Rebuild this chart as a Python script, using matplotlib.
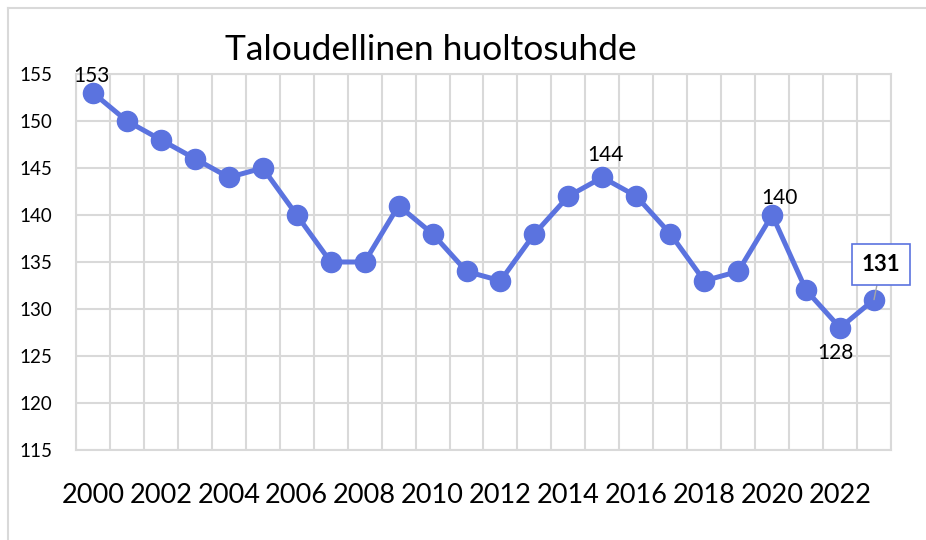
import matplotlib
matplotlib.use("Agg")
import matplotlib.pyplot as plt
from matplotlib.lines import Line2D

plt.rcParams['font.family'] = ['Lato', 'DejaVu Sans']

years = list(range(2000, 2024))
values = [153, 150, 148, 146, 144, 145, 140, 135, 135, 141, 138, 134,
          133, 138, 142, 144, 142, 138, 133, 134, 140, 132, 128, 131]
title = "Taloudellinen huoltosuhde"
y_ticks = [115, 120, 125, 130, 135, 140, 145, 150, 155]

line_color = "#5B73DF"
grid_color = "#D9D9D9"

fig = plt.figure(figsize=(9.26, 5.40), dpi=100)
fig.patch.set_facecolor("white")

# outer chart border (cropped: only top and left visible)
fig.add_artist(Line2D([8/926, 1.0], [1-8/540, 1-8/540], color=grid_color, lw=1.5,
                      transform=fig.transFigure))
fig.add_artist(Line2D([8/926, 8/926], [0, 1-8/540], color=grid_color, lw=1.5,
                      transform=fig.transFigure))

ax = fig.add_axes([76/926, 1-450/540, (891-76)/926, (450-74)/540])
x = list(range(len(years)))
ax.plot(x, values, color=line_color, lw=3.6, marker='o', markersize=14.5,
        markerfacecolor=line_color, markeredgecolor=line_color, zorder=3,
        clip_on=False)

ax.set_xlim(-0.5, len(years) - 0.5)
ax.set_ylim(y_ticks[0], y_ticks[-1])
ax.set_yticks(y_ticks)
ax.set_yticklabels([str(v) for v in y_ticks], fontsize=13.5)
ax.set_xticks(x[::2])
ax.set_xticklabels([str(y) for y in years[::2]], fontsize=19.5)
ax.set_xticks([i - 0.5 for i in range(len(years) + 1)], minor=True)
ax.tick_params(axis='both', which='both', length=0)
ax.tick_params(axis='x', pad=24)
ax.tick_params(axis='y', pad=17)
ax.grid(True, axis='y', which='major', color=grid_color, lw=1.5)
ax.grid(True, axis='x', which='minor', color=grid_color, lw=1.5)
ax.grid(False, axis='x', which='major')
ax.set_axisbelow(True)
for s in ax.spines.values():
    s.set_color(grid_color)
    s.set_linewidth(1.5)

fig.text(431/926, 1-50/540, title, fontsize=25.5, ha='center', va='center')

# data labels
def lab(i, dx, dy, **kw):
    ax.annotate(str(values[i]), (x[i], values[i]), xytext=(dx, dy),
                textcoords='offset pixels', ha='center', va='center',
                fontsize=15, **kw)

lab(0, -2, 17)
lab(years.index(2015), 3, 22)
lab(years.index(2020), 7, 17)
lab(years.index(2022), -5, -25)

i = years.index(2023)
ax.annotate(str(values[i]), (x[i], values[i]), xytext=(7, 35),
            textcoords='offset pixels', ha='center', va='center',
            fontsize=16, fontweight='bold', annotation_clip=False,
            bbox=dict(boxstyle='square,pad=0.45', fc='white', ec=line_color, lw=1.2),
            arrowprops=dict(arrowstyle='-', color='#A6A6A6', lw=1,
                            shrinkA=0, shrinkB=0))

fig.savefig("out.png", dpi=100)
